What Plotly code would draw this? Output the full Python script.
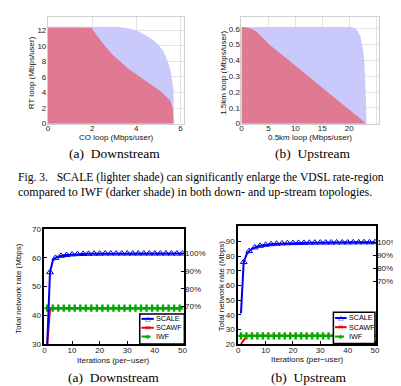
import plotly.graph_objects as go

W, H = 401, 386

# ---------------- data ----------------
# Rate regions, downstream (CO loop vs RT loop, Mbps/user)
ds_scale_x = [0, 2.5, 3.2, 3.64, 4.0, 4.38, 4.7, 4.98, 5.2, 5.35, 5.48, 5.57, 5.64, 5.68, 5.69, 5.69]
ds_scale_y = [12.45, 12.45, 12.4, 12.25, 11.95, 11.4, 10.85, 10.2, 9.4, 8.5, 7.5, 6.4, 5.3, 4.3, 2.0, 0]
ds_iwf_x = [0, 1.97, 2.4, 2.89, 3.64, 4.38, 5.13, 5.5, 5.6, 5.65, 5.69]
ds_iwf_y = [12.3, 12.3, 10.6, 8.93, 7.04, 5.57, 4.1, 3.06, 2.5, 1.8, 0]

# Rate regions, upstream (0.5km loop vs 1.5km loop, Mbps/user)
us_scale_x = [0, 20.4, 21.0, 21.6, 22.1, 22.5, 22.8, 22.95, 23.1, 23.2]
us_scale_y = [0.612, 0.612, 0.605, 0.585, 0.55, 0.48, 0.40, 0.30, 0.15, 0]
us_iwf_x = [0, 1, 2, 2.7, 3.5, 4.3, 5.2, 8.2, 11.3, 14.3, 17.4, 20.0, 23.2]
us_iwf_y = [0.612, 0.608, 0.598, 0.585, 0.56, 0.53, 0.50, 0.417, 0.33, 0.247, 0.161, 0.09, 0]

# Convergence, downstream (Mbps) vs iterations per user
iters = list(range(1, 51))
dn_scale = [30, 55, 59, 60, 60.4, 60.7, 60.9, 61.0, 61.1, 61.2,
            61.25, 61.3, 61.3, 61.35, 61.4, 61.4, 61.4, 61.45, 61.45, 61.45,
            61.45, 61.5, 61.5, 61.5, 61.5, 61.5, 61.5, 61.5, 61.5, 61.5,
            61.5, 61.5, 61.5, 61.5, 61.5, 61.5, 61.5, 61.5, 61.5, 61.5,
            61.5, 61.5, 61.5, 61.5, 61.5, 61.5, 61.5, 61.5, 61.5, 61.5]
dn_scawf = [30, 42, 42.4, 42.4, 42.4, 42.4, 42.4, 42.4, 42.4, 42.4,
            42.4, 42.4, 42.4, 42.4, 42.4, 42.4, 42.4, 42.4, 42.4, 42.4,
            42.4, 42.4, 42.4, 42.4, 42.4, 42.4, 42.4, 42.4, 42.4, 42.4,
            42.4, 42.4, 42.4, 42.4, 42.4, 42.4, 42.4, 42.4, 42.4, 42.4,
            42.4, 42.4, 42.4, 42.4, 42.4, 42.4, 42.4, 42.4, 42.4, 42.4]
dn_iwf = [42.5, 42.5, 42.5, 42.5, 42.5, 42.5, 42.5, 42.5, 42.5, 42.5,
          42.5, 42.5, 42.5, 42.5, 42.5, 42.5, 42.5, 42.5, 42.5, 42.5,
          42.5, 42.5, 42.5, 42.5, 42.5, 42.5, 42.5, 42.5, 42.5, 42.5,
          42.5, 42.5, 42.5, 42.5, 42.5, 42.5, 42.5, 42.5, 42.5, 42.5,
          42.5, 42.5, 42.5, 42.5, 42.5, 42.5, 42.5, 42.5, 42.5, 42.5]

# Convergence, upstream (Mbps)
up_scale = [41, 76, 81, 83.5, 85, 86, 86.6, 87.1, 87.5, 87.8,
            88.0, 88.2, 88.4, 88.5, 88.6, 88.7, 88.8, 88.85, 88.9, 88.95,
            89.0, 89.05, 89.1, 89.1, 89.15, 89.2, 89.2, 89.25, 89.25, 89.3,
            89.3, 89.3, 89.35, 89.35, 89.35, 89.4, 89.4, 89.4, 89.4, 89.4,
            89.45, 89.45, 89.45, 89.45, 89.45, 89.5, 89.5, 89.5, 89.5, 89.5]
up_scawf = [20, 23, 25.3, 25.6, 25.6, 25.6, 25.6, 25.6, 25.6, 25.6,
            25.6, 25.6, 25.6, 25.6, 25.6, 25.6, 25.6, 25.6, 25.6, 25.6,
            25.6, 25.6, 25.6, 25.6, 25.6, 25.6, 25.6, 25.6, 25.6, 25.6,
            25.6, 25.6, 25.6, 25.6, 25.6, 25.6, 25.6, 25.6, 25.6, 25.6,
            25.6, 25.6, 25.6, 25.6, 25.6, 25.6, 25.6, 25.6, 25.6, 25.6]
up_iwf = [25.6, 25.6, 25.6, 25.6, 25.6, 25.6, 25.6, 25.6, 25.6, 25.6,
          25.6, 25.6, 25.6, 25.6, 25.6, 25.6, 25.6, 25.6, 25.6, 25.6,
          25.6, 25.6, 25.6, 25.6, 25.6, 25.6, 25.6, 25.6, 25.6, 25.6,
          25.6, 25.6, 25.6, 25.6, 25.6, 25.6, 25.6, 25.6, 25.6, 25.6,
          25.6, 25.6, 25.6, 25.6, 25.6, 25.6, 25.6, 25.6, 25.6, 25.6]

pct_ticks = [70, 80, 90, 100]
pct_labels = ["70%", "80%", "90%", "100%"]
dn_ref = 61.5   # 100% reference (downstream)
up_ref = 89.5   # 100% reference (upstream)

series_names = ["SCALE", "SCAWF", "IWF"]
series_colors = ["#0000EE", "#EE0000", "#00AA00"]

LIGHT = "#C9C9FB"
DARK = "#E07A93"

def px(x):
    return x / W

def py(y):
    return 1 - y / H

fig = go.Figure()

# ---- top rate-region plots ----
for xs, ys, col, xa, ya in [
    (ds_scale_x, ds_scale_y, LIGHT, "x", "y"),
    (ds_iwf_x, ds_iwf_y, DARK, "x", "y"),
    (us_scale_x, us_scale_y, LIGHT, "x2", "y2"),
    (us_iwf_x, us_iwf_y, DARK, "x2", "y2"),
]:
    fig.add_trace(go.Scatter(x=xs, y=ys, mode="lines", fill="tozeroy",
                             fillcolor=col, line=dict(width=0, color=col),
                             xaxis=xa, yaxis=ya, showlegend=False, hoverinfo="skip"))

# ---- bottom convergence plots ----
def add_conv(scale, scawf, iwf, xa, ya):
    fig.add_trace(go.Scatter(x=iters, y=scawf, mode="lines",
                             line=dict(color=series_colors[1], width=2),
                             xaxis=xa, yaxis=ya, showlegend=False))
    fig.add_trace(go.Scatter(x=iters, y=iwf, mode="lines+markers",
                             line=dict(color=series_colors[2], width=2, dash="dash"),
                             marker=dict(symbol="cross", size=6, color=series_colors[2], maxdisplayed=34),
                             xaxis=xa, yaxis=ya, showlegend=False))
    fig.add_trace(go.Scatter(x=iters, y=scale, mode="lines+markers",
                             line=dict(color=series_colors[0], width=2),
                             marker=dict(symbol="triangle-up-open", size=6, color=series_colors[0],
                                         line=dict(width=1), maxdisplayed=25),
                             xaxis=xa, yaxis=ya, showlegend=False))

add_conv(dn_scale, dn_scawf, dn_iwf, "x3", "y3")
add_conv(up_scale, up_scawf, up_iwf, "x4", "y4")
# invisible traces to attach percentage axes
fig.add_trace(go.Scatter(x=[iters[0]], y=[100], mode="markers", marker=dict(opacity=0),
                         xaxis="x3", yaxis="y5", showlegend=False, hoverinfo="skip"))
fig.add_trace(go.Scatter(x=[iters[0]], y=[100], mode="markers", marker=dict(opacity=0),
                         xaxis="x4", yaxis="y6", showlegend=False, hoverinfo="skip"))

tickfont = dict(family="Liberation Sans, Arial", size=8, color="#222")
grid = "#E3E3E3"

top_common = dict(showgrid=True, gridcolor=grid, gridwidth=1, zeroline=False,
                  showline=True, linecolor="#D0D0D0", linewidth=1, mirror=True,
                  ticks="", tickfont=tickfont, ticklen=0)
bot_common = dict(showgrid=False, zeroline=False, showline=True, linecolor="black",
                  linewidth=2, mirror=True, ticks="inside", ticklen=3, tickwidth=1,
                  tickcolor="black", tickfont=tickfont)

fig.update_layout(
    width=W, height=H, margin=dict(l=0, r=0, t=0, b=0),
    paper_bgcolor="white", plot_bgcolor="white", showlegend=False,
    xaxis=dict(domain=[px(38.5), px(176.5)], range=[0, 6.15], anchor="y",
               tickvals=[0, 2, 4, 6], ticklabelstandoff=-3, **top_common),
    yaxis=dict(domain=[py(114.3), py(5)], range=[0, 13.7], anchor="x",
               tickvals=[0, 2, 4, 6, 8, 10, 12], ticklabelstandoff=-1, **top_common),
    xaxis2=dict(domain=[px(235), px(375)], range=[0, 25.6], anchor="y2",
                tickvals=[0, 5, 10, 15, 20, 25], ticktext=["0", "5", "10", "15", "20", ""],
                ticklabelstandoff=-3, **top_common),
    yaxis2=dict(domain=[py(114.3), py(5)], range=[0, 0.676], anchor="x2",
                tickvals=[0, 0.1, 0.2, 0.3, 0.4, 0.5, 0.6],
                ticktext=["0", "0.1", "0.2", "0.3", "0.4", "0.5", "0.6"],
                ticklabelstandoff=-1, **top_common),
    xaxis3=dict(domain=[px(35), px(176.7)], range=[0, 50.6], anchor="y3",
                tickvals=[0, 10, 20, 30, 40, 50], ticklabelstandoff=-3, **bot_common),
    yaxis3=dict(domain=[py(340), py(222.3)], range=[30, 70], anchor="x3",
                tickvals=[30, 40, 50, 60, 70], **bot_common),
    xaxis4=dict(domain=[px(231.7), px(371.7)], range=[0, 50.4], anchor="y4",
                tickvals=[0, 10, 20, 30, 40, 50], ticklabelstandoff=-3, **bot_common),
    yaxis4=dict(domain=[py(340), py(219)], range=[20, 100.7], anchor="x4",
                tickvals=[20, 30, 40, 50, 60, 70, 80, 90], **bot_common),
    yaxis5=dict(overlaying="y3", side="right", anchor="x3",
                range=[30 / dn_ref * 100, 70 / dn_ref * 100],
                tickvals=pct_ticks, ticktext=pct_labels, showgrid=False, zeroline=False,
                showline=False, ticks="inside", ticklen=3, tickcolor="black", tickfont=tickfont),
    yaxis6=dict(overlaying="y4", side="right", anchor="x4",
                range=[20 / up_ref * 100, 100.7 / up_ref * 100],
                tickvals=pct_ticks, ticktext=pct_labels, showgrid=False, zeroline=False,
                showline=False, ticks="inside", ticklen=3, tickcolor="black", tickfont=tickfont),
)

ann_font = dict(family="Liberation Sans, Arial", size=8, color="#111")
serif = dict(family="Liberation Serif, Times New Roman", size=13.5, color="black")
cap_font = dict(family="Liberation Serif, Times New Roman", size=11.6, color="black")
NB = "\u00a0"

def ann(text, x, y, font, angle=0, xanchor="center", yanchor="middle", align="center"):
    fig.add_annotation(text=text, x=px(x), y=py(y), xref="paper", yref="paper",
                       showarrow=False, font=font, textangle=angle,
                       xanchor=xanchor, yanchor=yanchor, align=align)

# axis titles
ann("CO loop (Mbps/user)", 108, 128.5, ann_font)
ann("RT loop (Mbps/user)", 22, 62, ann_font, angle=-90)
ann("0.5km loop (Mbps/user)", 305, 128.5, ann_font)
ann("1.5km loop (Mbps/user)", 216.5, 62, ann_font, angle=-90)
ann("Iterations (per\u2212user)", 105, 356.5, ann_font)
ann("Total network rate (Mbps)", 8.5, 283, ann_font, angle=-90)
ann("Iterations (per\u2212user)", 301.7, 355.5, ann_font)
ann("Total network rate (Mbps)", 215, 280, ann_font, angle=-90)

# sub-captions
ann("(a)" + NB * 2 + "Downstream", 106, 145, serif)
ann("(b)" + NB * 2 + "Upstream", 306.7, 145, serif)
ann("(a)" + NB * 2 + "Downstream", 105, 374.3, serif)
ann("(b)" + NB * 2 + "Upstream", 303.5, 374, serif)

# figure caption (two lines in one text block)
caption = ("Fig. 3." + NB * 3 + "SCALE (lighter shade) can significantly enlarge the VDSL rate-region"
           "<br><span style='font-size:12px'>compared to IWF (darker shade) in both down- and "
           "up-stream topologies.</span>")
ann(caption, 6, 177, cap_font, xanchor="left", align="left")

# ---- custom compact legends ----
leg_font = dict(family="Liberation Sans, Arial", size=7.2, color="black")
markers_txt = ["\u25B3", "\u00D7", "\u271A"]

def legend(x0, x1, y0, y1, lx0, lx1, rows):
    fig.add_shape(type="rect", xref="paper", yref="paper",
                  x0=px(x0), x1=px(x1), y0=py(y1), y1=py(y0),
                  line=dict(color="black", width=1.5), fillcolor="white", layer="above")
    for i, name in enumerate(series_names):
        yy = rows[i]
        fig.add_shape(type="line", xref="paper", yref="paper",
                      x0=px(lx0), x1=px(lx1), y0=py(yy), y1=py(yy),
                      line=dict(color=series_colors[i], width=2,
                                dash="dash" if name == "IWF" else "solid"),
                      layer="above")
        ann(markers_txt[i], (lx0 + lx1) / 2, yy,
            dict(family="DejaVu Sans", size=7 if i != 2 else 6, color=series_colors[i]))
        ann(name, lx1 + 0.3, yy, leg_font, xanchor="left")

legend(131.7, 177, 309.3, 339.8, 133.5, 146, [314.2, 323.3, 332.3])
legend(328.3, 370.5, 307.3, 339.5, 330, 341.7, [313.3, 322.7, 332.3])

fig.write_html("out.html")
